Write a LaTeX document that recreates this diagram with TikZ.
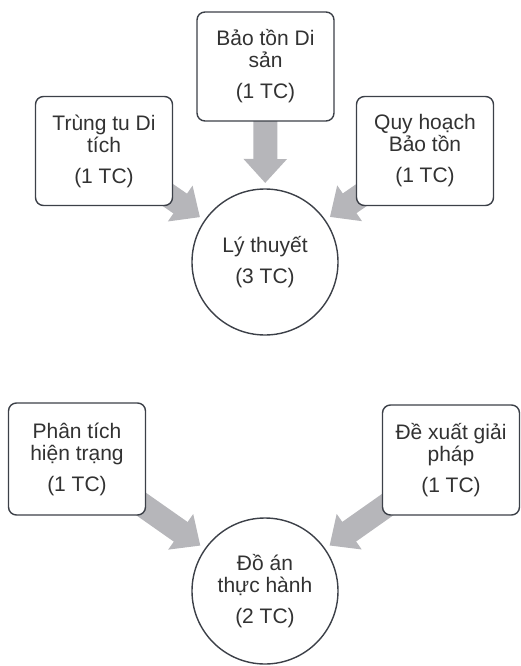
\documentclass[tikz,border=0pt]{standalone}
\usepackage{fontspec}
\setmainfont{Liberation Sans}
\usetikzlibrary{arrows.meta,backgrounds}

\definecolor{boxline}{RGB}{60,64,72}
\definecolor{arrowgray}{RGB}{182,182,186}
\definecolor{textgray}{RGB}{50,50,50}

\tikzset{
  course/.style={draw=boxline, line width=1.4pt, fill=white, rounded corners=8pt,
    minimum width=137pt, minimum height=109pt, inner sep=0pt, align=center,
    text=textgray, font=\fontsize{21}{22}\selectfont},
  total/.style={draw=boxline, line width=1.4pt, fill=white, circle,
    minimum size=146pt, inner sep=0pt, align=center,
    text=textgray, font=\fontsize{21}{22}\selectfont},
  feed/.style={arrowgray, line width=24pt, shorten >=79pt,
    -{Triangle[width=42pt,length=24pt]}}
}

\begin{document}
\begin{tikzpicture}[x=1pt, y=-1pt]
  \useasboundingbox (0,0) rectangle (521,666);

  % theory block
  \node[course] (baoton) at (265.5,66.5) {Bảo tồn Di\\sản\\[9pt](1 TC)};
  \node[course] (trungtu) at (104,151) {Trùng tu Di\\tích\\[9pt](1 TC)};
  \node[course] (quyhoach) at (425,151) {Quy hoạch\\Bảo tồn\\[9pt](1 TC)};
  \node[total] (lythuyet) at (265,262) {Lý thuyết\\[9pt](3 TC)};

  % practice block
  \node[course, minimum height=112pt] (phantich) at (77,459) {Phân tích\\hiện trạng\\[9pt](1 TC)};
  \node[course, minimum height=110pt] (dexuat) at (451,460) {Đề xuất giải\\pháp\\[9pt](1 TC)};
  \node[total] (doan) at (265,591) {Đồ án\\thực hành\\[9pt](2 TC)};

  % arrows behind the shapes
  \begin{scope}[on background layer]
    \draw[feed] (baoton.center) -- (lythuyet.center);
    \draw[feed] (trungtu.center) -- (lythuyet.center);
    \draw[feed] (quyhoach.center) -- (lythuyet.center);
    \draw[feed] (phantich.center) -- (doan.center);
    \draw[feed] (dexuat.center) -- (doan.center);
  \end{scope}
\end{tikzpicture}
\end{document}
